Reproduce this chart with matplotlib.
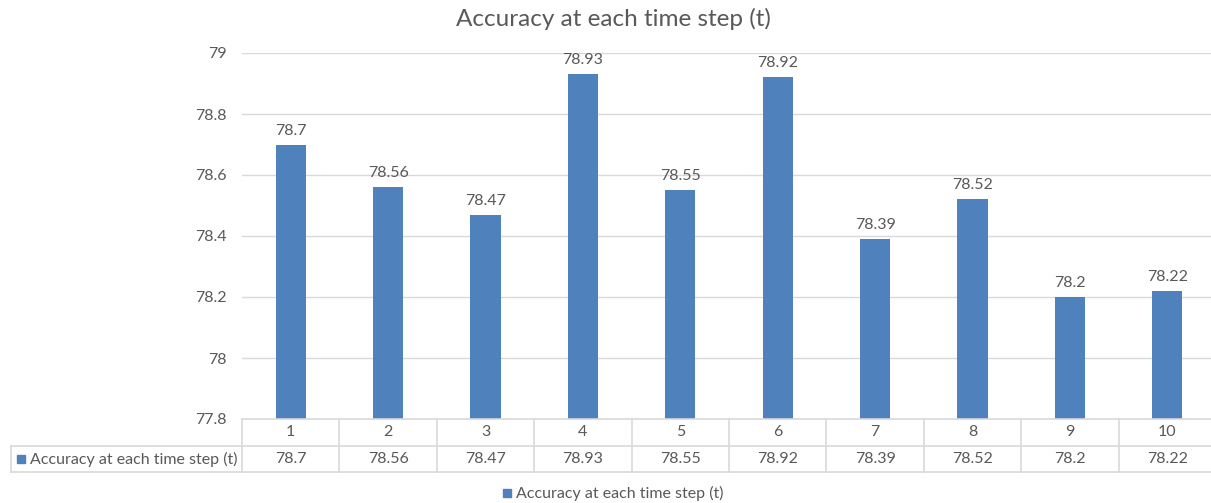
import matplotlib
matplotlib.use("Agg")
import matplotlib.pyplot as plt
import numpy as np
from matplotlib.lines import Line2D
from matplotlib.patches import Rectangle

# ── data ──
steps = ["1", "2", "3", "4", "5", "6", "7", "8", "9", "10"]
accuracy = [78.7, 78.56, 78.47, 78.93, 78.55, 78.92, 78.39, 78.52, 78.2, 78.22]
series_name = "Accuracy at each time step (t)"
y_ticks = [77.8, 78.0, 78.2, 78.4, 78.6, 78.8, 79.0]

BAR = "#4F81BD"
GRID = "#D9D9D9"
TXT = "#595959"
FS = 11.5
plt.rcParams["font.family"] = ["Lato", "DejaVu Sans"]

W, H = 1211, 503
fig = plt.figure(figsize=(W / 100, H / 100), dpi=100)

# plot area in pixels (left, top, right, bottom)
L, T, R, B = 242, 53, 1216, 419
ax = fig.add_axes([L / W, 1 - B / H, (R - L) / W, (B - T) / H])

x = np.arange(1, len(steps) + 1)
ax.bar(x, accuracy, width=0.31, color=BAR, zorder=3)
ax.set_xlim(0.5, len(steps) + 0.5)
ax.set_ylim(y_ticks[0], y_ticks[-1])
ax.set_yticks(y_ticks)
ax.set_yticklabels([f"{v:g}" for v in y_ticks], color=TXT, fontsize=FS)
ax.tick_params(axis="y", length=0, pad=11)
ax.set_xticks([])
ax.grid(axis="y", color=GRID, lw=1, zorder=0)
for s in ax.spines.values():
    s.set_visible(False)

for xi, v in zip(x, accuracy):
    ax.annotate(f"{v:g}", (xi, v), xytext=(0, 5), textcoords="offset points",
                ha="center", va="bottom", color=TXT, fontsize=FS)


# ── data table under the axis (figure pixel coords) ──
def fx(p):
    return p / W


def fy(p):
    return 1 - p / H


col_w = (R - L) / len(steps)
row1_top, row2_top, row2_bot = 419, 446, 472
table_left = 11
lines = [
    ((L, R), (row1_top, row1_top)),
    ((table_left, R), (row2_top, row2_top)),
    ((table_left, R), (row2_bot, row2_bot)),
    ((table_left, table_left), (row2_top, row2_bot)),
]
for i in range(len(steps) + 1):
    xb = L + i * col_w
    lines.append(((xb, xb), (row1_top, row2_bot)))
for xs, ys in lines:
    fig.add_artist(Line2D([fx(xs[0]), fx(xs[1])], [fy(ys[0]), fy(ys[1])],
                          color=GRID, lw=1.2, transform=fig.transFigure))

for i, (lab, v) in enumerate(zip(steps, accuracy)):
    xc = L + (i + 0.5) * col_w
    fig.text(fx(xc), fy((row1_top + row2_top) / 2), lab, ha="center", va="center",
             color=TXT, fontsize=FS)
    fig.text(fx(xc), fy((row2_top + row2_bot) / 2), f"{v:g}", ha="center", va="center",
             color=TXT, fontsize=FS)

fig.add_artist(Rectangle((fx(17), fy(463)), 8 / W, 8 / H, color=BAR,
                         transform=fig.transFigure))
fig.text(fx(30), fy((row2_top + row2_bot) / 2), series_name, ha="left", va="center",
         color=TXT, fontsize=FS)

# ── title and legend ──
fig.text(fx(613), fy(19), "Accuracy at each time step (t)", ha="center", va="center",
         color=TXT, fontsize=17.5)
fig.add_artist(Rectangle((fx(503), fy(497)), 8 / W, 8 / H, color=BAR,
                         transform=fig.transFigure))
fig.text(fx(516), fy(493), series_name, ha="left", va="center", color=TXT, fontsize=FS)

fig.savefig("out.png", dpi=100)
